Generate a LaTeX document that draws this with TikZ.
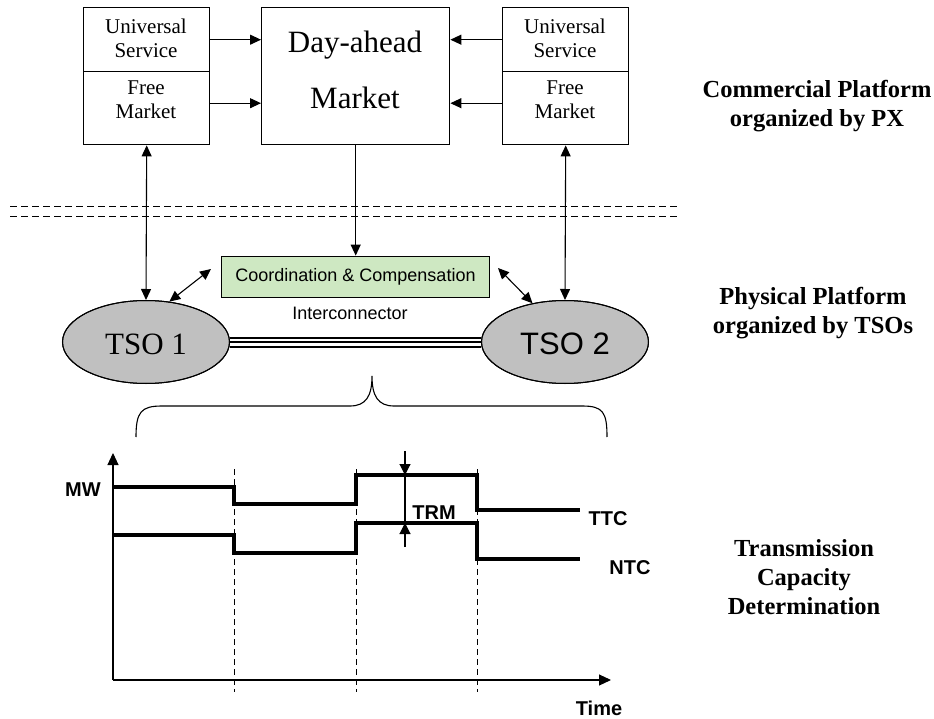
\documentclass[tikz,border=0pt]{standalone}
\usepackage{fontspec}
\setmainfont{Liberation Serif}
\setsansfont{Liberation Sans}
\usetikzlibrary{arrows.meta,shapes.geometric}
\definecolor{coordgreen}{RGB}{206,232,194}
\definecolor{tsogray}{RGB}{192,192,192}
\begin{document}
\begin{tikzpicture}[x=1pt,y=-1pt,
  >={Triangle[length=11pt,width=10pt]},
  line width=1.1pt,
  box/.style={draw,line width=1.4pt,inner sep=0pt,anchor=north west},
  serif20/.style={font=\fontsize{21}{24}\selectfont,align=center,inner sep=0pt},
  bigserif/.style={font=\fontsize{31}{36}\selectfont,inner sep=0pt},
  side/.style={font=\fontsize{24.5}{29}\selectfont\bfseries,align=center,inner sep=0pt},
  tso/.style={ellipse,draw,line width=1pt,fill=tsogray,minimum width=167pt,minimum height=83pt,inner sep=0pt},
  lvl/.style={line width=4pt},
  grid/.style={line width=0.9pt,dash pattern=on 6pt off 4pt},
  axlab/.style={font=\sffamily\bfseries\fontsize{20}{24}\selectfont,inner sep=0pt}
]
\useasboundingbox (0,0) rectangle (934,719);

% top boxes
\node[box,minimum width=126pt,minimum height=64pt] (lus) at (83,7) {};
\node[box,minimum width=126pt,minimum height=73pt] (lfm) at (83,71) {};
\node[box,minimum width=188pt,minimum height=137pt] (dam) at (261,7) {};
\node[box,minimum width=126pt,minimum height=64pt] (rus) at (502,7) {};
\node[box,minimum width=126pt,minimum height=73pt] (rfm) at (502,71) {};

\node[serif20] (lust) at (146,38.5) {Universal\\Service};
\node[serif20] (lfmt) at (146,99.5) {Free\\Market};
\node[serif20] (rust) at (565,38.5) {Universal\\Service};
\node[serif20] (rfmt) at (565,99.5) {Free\\Market};
\node[bigserif] (damt1) at (355,45) {Day-ahead};
\node[bigserif] (damt2) at (355,98) {Market};

\draw[->] (lus.east) -- (lus.east -| dam.west);
\draw[->] ([yshift=5pt]lfm.east) -- ([yshift=5pt]lfm.east -| dam.west);
\draw[->] (rus.west) -- (rus.west -| dam.east);
\draw[->] ([yshift=5pt]rfm.west) -- ([yshift=5pt]rfm.west -| dam.east);

% separator
\draw[line width=0.9pt,dash pattern=on 7pt off 4pt] (10,206) -- (679,206);
\draw[line width=0.9pt,dash pattern=on 7pt off 4pt] (10,216.5) -- (679,216.5);

% physical platform
\node[draw,line width=0.8pt,fill=coordgreen,minimum width=268pt,minimum height=41pt,inner sep=0pt,
  font=\sffamily\fontsize{18}{21}\selectfont] (coord) at (355.5,276.5) {Coordination \& Compensation};
\node[font=\sffamily\fontsize{18}{21}\selectfont,inner sep=0pt] (ic) at (350,313) {Interconnector};
\node[tso] (tso1) at (146,342) {};
\node[tso] (tso2) at (565,342) {};

\draw[line width=11pt] (tso1.east) -- (tso2.west);
\draw[line width=7pt,white] (tso1.east) -- (tso2.west);
\draw[line width=2.5pt] (tso1.east) -- (tso2.west);
\node[tso,fill=none] (tso1b) at (146,342) {};
\node[tso,fill=none] (tso2b) at (565,342) {};
\node[bigserif] (tso1t) at (146,344) {TSO 1};
\node[bigserif,font=\sffamily\fontsize{31}{36}\selectfont] (tso2t) at (565,344) {TSO 2};

\draw[<->] (lfm.south) -- (tso1.north);
\draw[<->] (rfm.south) -- (tso2.north);
\draw[->] (dam.south) -- (dam.south |- coord.north);
\coordinate (cl) at (211,269);
\coordinate (cr) at (498,268);
\draw[<->] (tso1.60) -- (cl);
\draw[<->] (tso2.130) -- (cr);

\node[side] (comm) at (817,106) {Commercial Platform\\organized by PX};
\node[side] (phys) at (813,313) {Physical Platform\\organized by TSOs};

% brace
\draw[line width=1.1pt] (136,437) .. controls (136,412) and (141,406) .. (162,406) -- (350,406)
  .. controls (366,406) and (372,396) .. (372,376)
  .. controls (372,396) and (378,406) .. (394,406) -- (582,406)
  .. controls (603,406) and (607,412) .. (607,437);

% chart
\coordinate (o) at (113,680);
\coordinate (ytip) at (113,453);
\coordinate (xtip) at (611,680);
\draw[->,>={Triangle[length=12pt,width=11pt]}] (o) -- (ytip);
\draw[->,>={Triangle[length=12pt,width=11pt]}] (o) -- (xtip);
\foreach \x in {234,356,477} \draw[grid] (\x,469) -- (\x,692);
\draw[lvl] (113,487) -- (234,487) -- (234,504) -- (356,504) -- (356,475) -- (477,475) -- (477,510) -- (580,510);
\draw[lvl] (113,535) -- (234,535) -- (234,553) -- (356,553) -- (356,523) -- (477,523) -- (477,559) -- (580,559);
\draw[->,>={Triangle[length=11pt,width=11pt]}] (405,451) -- (405,475);
\draw[->,>={Triangle[length=11pt,width=11pt]}] (405,547) -- (405,523);
\draw (405,475) -- (405,523);

\node[axlab] (mw) at (83,490) {MW};
\node[axlab] (trm) at (434,513) {TRM};
\node[axlab] (ttc) at (608,519) {TTC};
\node[axlab] (ntc) at (630,568) {NTC};
\node[axlab] (time) at (599,708) {Time};
\node[side] (tcd) at (804,577) {Transmission\\Capacity\\Determination};
\end{tikzpicture}
\end{document}
